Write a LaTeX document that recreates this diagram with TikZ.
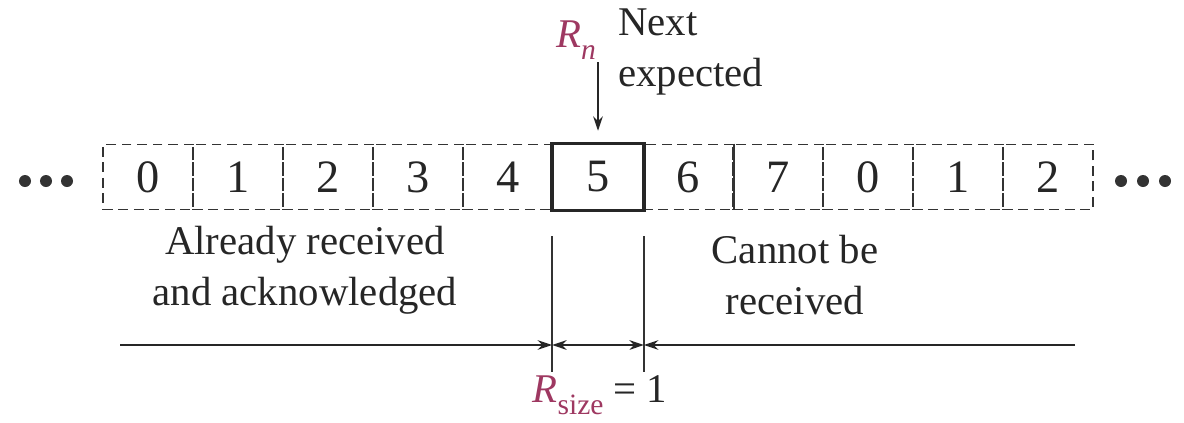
\documentclass[tikz,border=0pt]{standalone}
\usepackage{fontspec}
\setmainfont{Liberation Serif}
\usetikzlibrary{positioning,arrows.meta}
\definecolor{seqred}{rgb}{0.62,0.22,0.38}
\newcommand{\lowsub}[1]{\raisebox{-0.28em}{\fontsize{21}{21}\selectfont #1}}

\begin{document}
\begin{tikzpicture}[x=0.025cm, y=-0.025cm,
  font=\fontsize{29}{36}\selectfont, text=black!85,
  cell/.style={draw=black!80, dashed, dash pattern=on 7pt off 4pt, line width=1.3pt,
               minimum width=2.25cm, minimum height=1.625cm, inner sep=0pt,
               font=\fontsize{33}{33}\selectfont},
  lab/.style={align=center, inner sep=0pt},
  dot/.style={circle, fill=black!80, inner sep=0pt, minimum size=0.3cm},
  bar/.style={line width=1.2pt, black!80},
  arr/.style={-{Stealth[length=3.6mm, width=2.4mm]}, line width=1.4pt, black!85}
]
\useasboundingbox (0,0) rectangle (1184,422);
% ----- sequence numbers -----
\foreach \s [count=\i from 0] in {0,1,2,3,4,5,6,7,0,1,2}{
  \node[cell] (c\i) at (148+90*\i,177) {\s};
}
\draw[line width=2.6pt, black!85] (c5.south west) rectangle (c5.north east);
\draw[line width=1.3pt, black!80] (c6.north east) -- (c6.south east);
\foreach \x in {25,46,67}{\node[dot] (dl\x) at (\x,181) {};}
\foreach \x in {1121,1143,1165}{\node[dot] (dr\x) at (\x,181) {};}
% ----- next expected -----
\node[text=seqred] (rn) at (576,40) {\textit{R}\lowsub{\textit{n}}};
\node[lab, anchor=west, align=left] (next) at (618,52) {Next\\expected};
\coordinate (rtop) at (598,62);
\draw[arr, shorten >=3.2mm] (rtop) -- (c5.north);
% ----- window limits -----
\coordinate (top) at (0,236);
\coordinate (bot) at (0,372);
\draw[bar] (c5.south west |- top) -- (c5.south west |- bot);
\draw[bar] (c5.south east |- top) -- (c5.south east |- bot);
\node[lab] (done) at (305,270) {Already received\\and acknowledged};
\node[lab] (cant) at (795,275) {Cannot be\\received};
% ----- size arrows -----
\coordinate (le) at (120,345);
\coordinate (re) at (1075,345);
\draw[arr] (le) -- (c5.south west |- le);
\draw[arr, {Stealth[length=3.6mm, width=2.4mm]}-{Stealth[length=3.6mm, width=2.4mm]}]
  (c5.south west |- le) -- (c5.south east |- le);
\draw[arr] (re) -- (c5.south east |- re);
\node (rsize) at (600,395) {\textcolor{seqred}{\textit{R}\lowsub{size}} = 1};
\end{tikzpicture}
\end{document}
